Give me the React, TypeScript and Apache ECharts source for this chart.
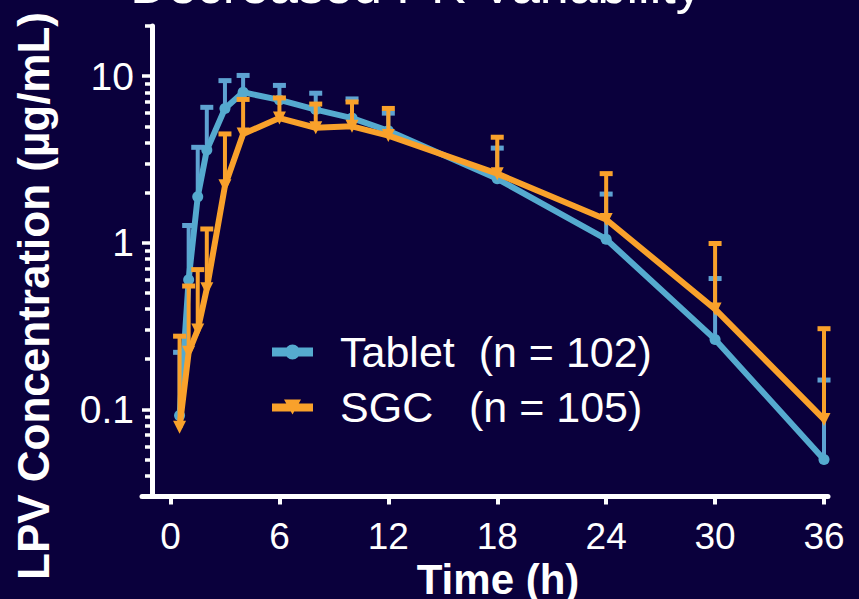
import React, { useEffect, useRef } from "react";
import * as echarts from "echarts";

// ---- data ----
const times = [0.5, 1, 1.5, 2, 3, 4, 6, 8, 10, 12, 18, 24, 30, 36];
const tabletMean = [0.092, 0.6, 1.89, 3.6, 6.4, 8.0, 7.2, 6.3, 5.6, 4.7, 2.42, 1.05, 0.263, 0.05];
const tabletUpper = [0.22, 1.27, 3.74, 6.5, 9.4, 10.1, 8.8, 7.9, 7.3, 6.0, 3.7, 1.96, 0.61, 0.15];
const sgcMean = [0.078, 0.22, 0.3, 0.53, 2.2, 4.5, 5.6, 4.9, 5.0, 4.4, 2.6, 1.38, 0.4, 0.087];
const sgcUpper = [0.275, 0.55, 0.69, 1.21, 4.5, 7.25, 7.4, 6.8, 7.0, 6.4, 4.3, 2.6, 0.99, 0.305];

const xTickValues = [0, 6, 12, 18, 24, 30, 36];
const yMajorTicks = [0.1, 1, 10];
const yMinorTicks = [
  0.04, 0.05, 0.06, 0.07, 0.08, 0.09,
  0.2, 0.3, 0.4, 0.5, 0.6, 0.7, 0.8, 0.9,
  2, 3, 4, 5, 6, 7, 8, 9, 20,
];
const seriesNames = ["Tablet  (n = 102)", "SGC   (n = 105)"];
const titleText = "Decreased PK Variability";
const yAxisTitle = "LPV Concentration (µg/mL)";
const xAxisTitle = "Time (h)";

const BG = "#0a003c";
const BLUE = "#55aacf";
const BLUE_ERR = "#5ea2d2";
const ORANGE = "#f9a12b";
const WHITE = "#ffffff";
const FONT = '"Liberation Sans", Arial, sans-serif';

// legend icons: thick bar with the series marker on it
const ICON_TABLET = "path://M0,3 L41,3 L41,12 L0,12 Z M13,7.5 A7.5,7.5 0 1,1 28,7.5 A7.5,7.5 0 1,1 13,7.5 Z";
const ICON_SGC = "path://M0,4 L41,4 L41,12 L0,12 Z M12,0 L29,0 L20.5,15 Z";

const errorBarRender = (color: string) => (params: any, api: any) => {
  const x = api.value(0);
  const m = api.value(1);
  const u = api.value(2);
  const p0 = api.coord([x, m]);
  const p1 = api.coord([x, u]);
  return {
    type: "group",
    children: [
      {
        type: "line",
        shape: { x1: p0[0], y1: p0[1], x2: p1[0], y2: p1[1] },
        style: { stroke: color, lineWidth: 4 },
      },
      {
        type: "line",
        shape: { x1: p1[0] - 6.5, y1: p1[1], x2: p1[0] + 6.5, y2: p1[1] },
        style: { stroke: color, lineWidth: 5 },
      },
    ],
  };
};

export default function App() {
  const ref = useRef<HTMLDivElement>(null);

  useEffect(() => {
    if (!ref.current) return;
    const chart = echarts.init(ref.current, undefined, { renderer: "svg" });

    const yCommon = {
      type: "log",
      logBase: 10,
      min: 0.03,
      max: 20,
      position: "left",
      offset: -10,
      splitLine: { show: false },
      minorTick: { show: false },
      minorSplitLine: { show: false },
    };

    const option: any = {
      animation: false,
      backgroundColor: BG,
      grid: { left: 142, right: 31, top: 26, bottom: 102.5, containLabel: false },
      xAxis: {
        type: "value",
        min: -1.57,
        max: 36.22,
        axisLine: { show: true, onZero: false, lineStyle: { color: WHITE, width: 5 } },
        axisTick: {
          show: true,
          customValues: xTickValues,
          length: 8,
          lineStyle: { color: WHITE, width: 4 },
        },
        axisLabel: {
          customValues: xTickValues,
          color: WHITE,
          fontSize: 37,
          fontFamily: FONT,
          margin: 21,
        },
        splitLine: { show: false },
      },
      yAxis: [
        {
          ...yCommon,
          axisLine: { show: true, onZero: false, lineStyle: { color: WHITE, width: 5 } },
          axisTick: {
            show: true,
            customValues: yMajorTicks,
            length: 10,
            lineStyle: { color: WHITE, width: 3.5 },
          },
          axisLabel: {
            customValues: yMajorTicks,
            color: WHITE,
            fontSize: 39,
            fontFamily: FONT,
            margin: 18,
            formatter: (v: number) => String(+Number(v).toPrecision(3)),
          },
        },
        {
          ...yCommon,
          axisLine: { show: false, onZero: false },
          axisTick: {
            show: true,
            customValues: yMinorTicks,
            length: 7,
            lineStyle: { color: WHITE, width: 3.5 },
          },
          axisLabel: { show: false },
        },
      ],
      legend: {
        data: [
          { name: seriesNames[0], icon: ICON_TABLET },
          { name: seriesNames[1], icon: ICON_SGC },
        ],
        orient: "vertical",
        left: 272,
        top: 330,
        padding: 0,
        itemWidth: 41,
        itemHeight: 15,
        itemGap: 11,
        textStyle: {
          color: WHITE,
          fontSize: 43,
          fontFamily: FONT,
          lineHeight: 44,
          padding: [0, 0, 0, 22],
        },
      },
      graphic: [
        {
          type: "text",
          x: 416,
          y: -15,
          style: {
            text: titleText,
            fill: WHITE,
            font: `52px ${FONT}`,
            textAlign: "center",
            textVerticalAlign: "middle",
          },
        },
        {
          type: "text",
          x: 33,
          y: 296,
          rotation: Math.PI / 2,
          style: {
            text: yAxisTitle,
            fill: WHITE,
            font: `bold 44px ${FONT}`,
            textAlign: "center",
            textVerticalAlign: "middle",
          },
        },
        {
          type: "text",
          x: 498,
          y: 579,
          style: {
            text: xAxisTitle,
            fill: WHITE,
            font: `bold 42px ${FONT}`,
            textAlign: "center",
            textVerticalAlign: "middle",
          },
        },
      ],
      series: [
        {
          name: "Tablet err",
          type: "custom",
          renderItem: errorBarRender(BLUE_ERR),
          data: times.map((t, i) => [t, tabletMean[i], tabletUpper[i]]),
          encode: { x: 0, y: [1, 2] },
          yAxisIndex: 0,
          z: 2,
          clip: false,
        },
        {
          name: seriesNames[0],
          type: "line",
          data: times.map((t, i) => [t, tabletMean[i]]),
          yAxisIndex: 0,
          symbol: "circle",
          symbolSize: 11,
          lineStyle: { color: BLUE, width: 6 },
          itemStyle: { color: BLUE },
          z: 3,
        },
        {
          name: "SGC err",
          type: "custom",
          renderItem: errorBarRender(ORANGE),
          data: times.map((t, i) => [t, sgcMean[i], sgcUpper[i]]),
          encode: { x: 0, y: [1, 2] },
          yAxisIndex: 0,
          z: 4,
          clip: false,
        },
        {
          name: seriesNames[1],
          type: "line",
          data: times.map((t, i) => [t, sgcMean[i]]),
          yAxisIndex: 0,
          symbol: "triangle",
          symbolRotate: 180,
          symbolSize: 13,
          lineStyle: { color: ORANGE, width: 6 },
          itemStyle: { color: ORANGE },
          z: 5,
        },
      ],
    };

    chart.setOption(option);
    return () => chart.dispose();
  }, []);

  return (
    <div
      ref={ref}
      style={{ position: "absolute", left: 0, top: 0, width: 859, height: 599 }}
    />
  );
}
